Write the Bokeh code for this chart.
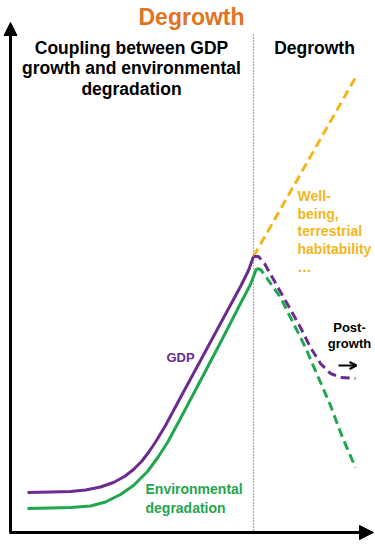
from bokeh.plotting import figure
from bokeh.models import Range1d, Arrow, NormalHead, OpenHead
from bokeh.core.properties import value
from bokeh.embed import file_html
from bokeh.resources import INLINE

# ---- data (diagram coordinates) ----
gdp_x = [27, 50, 70, 85, 100, 113, 124, 133, 141, 148, 156, 165, 180, 200, 220, 240, 248, 253]
gdp_y = [492, 491.5, 491, 489.5, 486.5, 482, 476, 469, 461, 452, 440, 425, 397, 360, 323, 286, 270, 256]
env_x = [27, 50, 70, 90, 105, 120, 133, 147, 158, 167, 180, 200, 220, 240, 250, 256]
env_y = [508, 507.5, 507, 505.5, 501.5, 494, 485, 471, 456, 442, 418, 380, 342, 303, 284, 268]
gdp_dg_x = [253, 258, 264, 273, 286, 300, 310, 320, 330, 340, 355]
gdp_dg_y = [256, 256, 263, 279, 302, 327, 347, 363, 373, 377, 378]
env_dg_x = [256, 260, 266, 280, 295, 305, 317, 330, 342, 355]
env_dg_y = [268, 269, 277, 297, 327, 347, 375, 405, 437, 467]
wb_x = [253, 355]
wb_y = [256, 77]

title_text = "Degrowth"
left_heading = ["Coupling between GDP", "growth and environmental", "degradation"]
right_heading = "Degrowth"
wellbeing_lines = ["Well-", "being,", "terrestrial", "habitability", "\u2026"]
post_lines = ["Post-", "growth"]
gdp_label = "GDP"
env_lines = ["Environmental", "degradation"]

ORANGE = "#E2731F"
PURPLE = "#6A2C91"
GREEN = "#1FA64E"
YELLOW = "#F2B61C"
FONT = value("Liberation Sans")

p = figure(width=375, height=545, output_backend="svg", toolbar_location=None,
           x_range=Range1d(0, 375), y_range=Range1d(545, 0),
           min_border=0, outline_line_color=None)
p.axis.visible = False
p.grid.visible = False
p.background_fill_color = "white"

# axes arrows
p.add_layout(Arrow(x_start=10, y_start=532, x_end=10, y_end=22, line_width=3,
                   line_color="black",
                   end=NormalHead(size=13, fill_color="black", line_color="black")))
p.add_layout(Arrow(x_start=9, y_start=532, x_end=373, y_end=532, line_width=3,
                   line_color="black",
                   end=NormalHead(size=14, fill_color="black", line_color="black")))

# dotted divider
p.segment(x0=[253], y0=[34], x1=[253], y1=[531], line_color="#555555",
          line_width=1.2, line_dash="1 2")

# curves
p.line(gdp_x, gdp_y, line_color=PURPLE, line_width=3, line_join="round")
p.line(env_x, env_y, line_color=GREEN, line_width=3, line_join="round")
p.line(wb_x, wb_y, line_color=YELLOW, line_width=3, line_dash="9 5")
p.line(gdp_dg_x, gdp_dg_y, line_color=PURPLE, line_width=3, line_dash="9 5")
p.line(env_dg_x, env_dg_y, line_color=GREEN, line_width=3, line_dash="9 5")

# post-growth arrow
p.add_layout(Arrow(x_start=338, y_start=365, x_end=356, y_end=365, line_width=2,
                   line_color="black",
                   end=OpenHead(size=7, line_color="black", line_width=2)))

def txt(x, y, t, color, size, align="center"):
    p.text(x=x, y=y, text=t, text_color=color, text_font=FONT,
           text_font_style="bold", text_font_size=size, text_align=align,
           text_baseline="middle")

txt([191], [16], [title_text], ORANGE, "23px")
txt([131] * 3, [47, 67.5, 88], left_heading, "black", "17.5px")
txt([314], [47], [right_heading], "black", "17.5px")
txt([297] * 5, [195, 213, 230.5, 248, 266], wellbeing_lines, YELLOW, "14px", "left")
txt([349, 349], [327, 343], post_lines, "black", "13px")
txt([180], [357], [gdp_label], PURPLE, "13px")
txt([145, 145], [488, 507], env_lines, GREEN, "14px", "left")

open("out.html", "w").write(file_html(p, INLINE))
